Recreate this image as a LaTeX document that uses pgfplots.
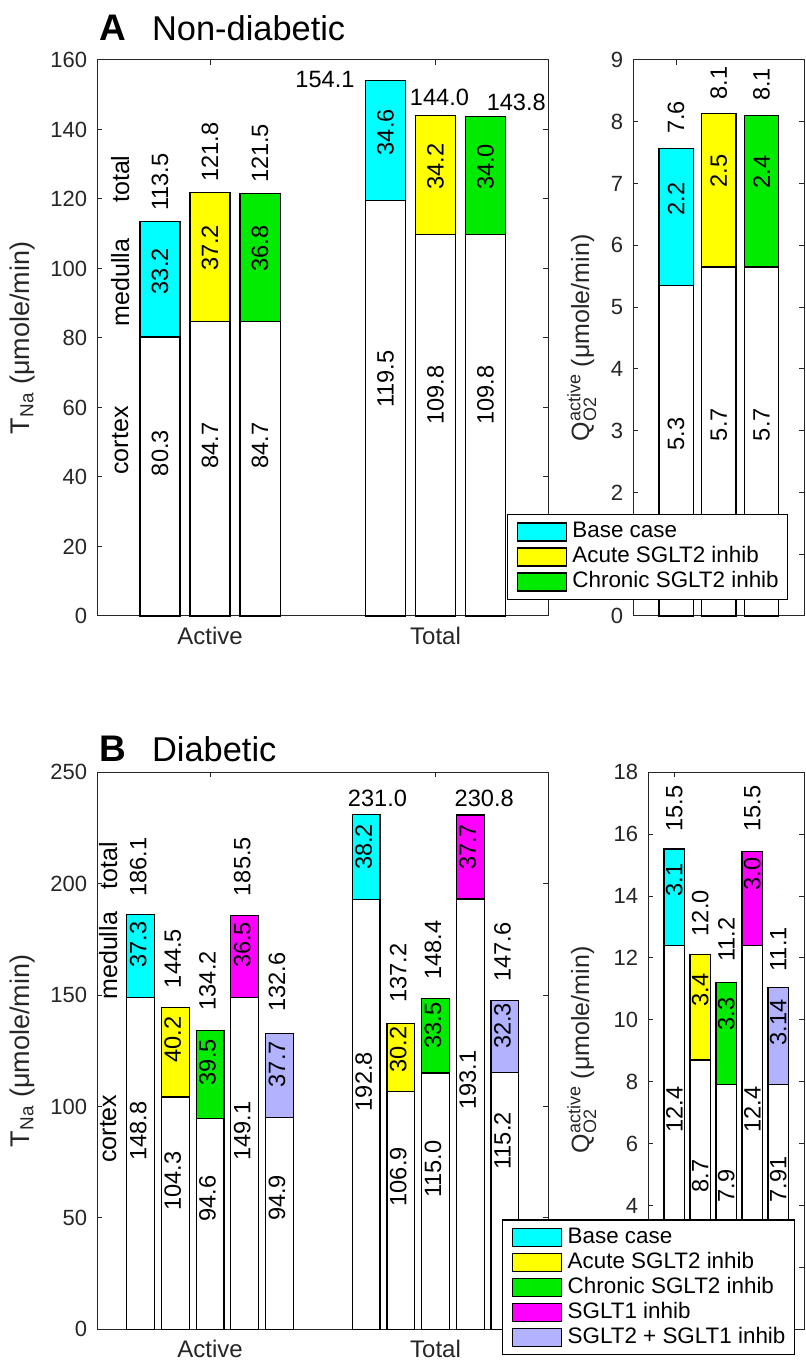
\documentclass[border=0pt]{standalone}
\usepackage{fontspec}
\setmainfont{Liberation Sans}
\usepackage{pgfplots}
\pgfplotsset{compat=1.18}
\definecolor{cy}{rgb}{0,1,1}
\definecolor{ye}{rgb}{1,1,0}
\definecolor{gr}{rgb}{0,0.92,0}
\definecolor{ma}{rgb}{1,0,1}
\definecolor{la}{rgb}{0.7,0.7,1}
\definecolor{ax}{rgb}{0.15,0.15,0.15}
\newcommand{\lab}{\fontsize{11.8}{13}\selectfont}
\newcommand{\RW}[4]{\node[xshift=#1,rotate=90,anchor=west,inner sep=0pt,font=\lab] at (axis cs:#2,#3) {#4};}
\newcommand{\RC}[4]{\node[xshift=#1,rotate=90,anchor=center,inner sep=0pt,font=\lab] at (axis cs:#2,#3) {#4};}
\newcommand{\HC}[3]{\node[anchor=center,inner sep=0pt,font=\lab] at (axis cs:#1,#2) {#3};}
\newcommand{\AN}[3]{\node[rotate=90,anchor=west,inner sep=0pt,font=\fontsize{12.5}{14}\selectfont] at (axis cs:#1,#2) {#3};}
\pgfplotsset{
  bars/.style={ybar, bar shift=0pt, draw=black, line width=0.6pt, forget plot},
  common/.style={scale only axis, anchor=south west, clip=false,
    axis line style={ax, line width=0.5pt},
    every tick/.style={ax, line width=0.5pt},
    major tick length=2.5pt, tick align=inside,
    /pgf/number format/assume math mode=true,
    yticklabel style={font=\fontsize{11}{13}\selectfont, text=ax, xshift=-1.6pt},
    xticklabel style={font=\fontsize{12}{14}\selectfont, text=ax, yshift=-2pt},
    legend image code/.code={\draw[##1,line width=0.6pt] (0pt,-4.5pt) rectangle (24.5pt,4.5pt);},
    legend style={draw=black, line width=0.6pt, fill=white,
      font=\fontsize{11.2}{12}\selectfont, inner xsep=4.5pt, inner ysep=3.2pt,
      row sep=1.5pt, column sep=2.85pt,
      nodes={inner sep=0pt, text height=8.5pt, text depth=2.5pt},
      cells={anchor=west}},
  }
}
\begin{document}
\begin{tikzpicture}
\useasboundingbox (0,0) rectangle (403pt,682.5pt);
% ---------------- A left
\begin{axis}[common, at={(48.65pt,374.5pt)}, width=225.5pt, height=278pt,
  xmin=0.5, xmax=2.5, ymin=0, ymax=160, ytick={0,20,...,160},
  xtick={1,2}, xticklabels={Active,Total}]
\addplot[bars, bar width=0.1775, fill=cy] coordinates {(0.778,113.5) (1.778,154.1)};
\addplot[bars, bar width=0.1775, fill=ye] coordinates {(1,121.9) (2,144.0)};
\addplot[bars, bar width=0.1775, fill=gr] coordinates {(1.222,121.5) (2.222,143.8)};
\addplot[bars, bar width=0.1775, fill=white] coordinates {(0.778,80.3) (1,84.7) (1.222,84.7) (1.778,119.5) (2,109.8) (2.222,109.8)};
\RW{0pt}{0.778}{116.5}{113.5}
\RW{0pt}{1}{124.8}{121.8}
\RW{0pt}{1.222}{124.5}{121.5}
\RC{0pt}{0.778}{99.2}{33.2}
\RC{0pt}{1}{105.9}{37.2}
\RC{0pt}{1.222}{105.7}{36.8}
\RW{0pt}{0.778}{40.15}{80.3}
\RW{0pt}{1}{42.35}{84.7}
\RW{0pt}{1.222}{42.35}{84.7}
\HC{1.5098}{154.5}{154.1}
\HC{2.0175}{149.3}{144.0}
\HC{2.358}{147.8}{143.8}
\RC{0pt}{1.778}{139.2}{34.6}
\RC{0pt}{2}{129.3}{34.2}
\RC{0pt}{2.222}{129.2}{34.0}
\RW{0pt}{1.778}{59.75}{119.5}
\RW{0pt}{2}{54.9}{109.8}
\RW{0pt}{2.222}{54.9}{109.8}
\AN{0.601}{118.8}{total}
\AN{0.601}{83.2}{medulla}
\AN{0.601}{40.6}{cortex}
\end{axis}
% ---------------- B left
\begin{axis}[common, at={(48.65pt,17.85pt)}, width=225.5pt, height=278.5pt,
  xmin=0.5, xmax=2.5, ymin=0, ymax=250, ytick={0,50,...,250},
  xtick={1,2}, xticklabels={Active,Total}]
\addplot[bars, bar width=0.123, fill=cy] coordinates {(0.6923,186.1) (1.6923,231.0)};
\addplot[bars, bar width=0.123, fill=ye] coordinates {(0.8462,144.5) (1.8462,137.1)};
\addplot[bars, bar width=0.123, fill=gr] coordinates {(1,134.1) (2,148.5)};
\addplot[bars, bar width=0.123, fill=ma] coordinates {(1.1538,185.6) (2.1538,230.8)};
\addplot[bars, bar width=0.123, fill=la] coordinates {(1.3077,132.6) (2.3077,147.6)};
\addplot[bars, bar width=0.123, fill=white] coordinates {(0.6923,148.8) (0.8462,104.3) (1,94.6) (1.1538,149.1) (1.3077,94.9) (1.6923,192.8) (1.8462,106.9) (2,115.0) (2.1538,193.1) (2.3077,115.2)};
\RW{-1.25pt}{0.6923}{194.1}{186.1}
\RW{-1.25pt}{0.8462}{153.0}{144.5}
\RW{-1.25pt}{1}{143.0}{134.2}
\RW{-1.25pt}{1.1538}{194.2}{185.5}
\RW{-1.25pt}{1.3077}{142.3}{132.6}
\RC{-1.25pt}{0.6923}{172.7}{37.3}
\RC{-1.25pt}{0.8462}{130.0}{40.2}
\RC{-1.25pt}{1}{119.9}{39.5}
\RC{-1.25pt}{1.1538}{172.5}{36.5}
\RC{-1.25pt}{1.3077}{119.0}{37.7}
\RW{-1.25pt}{0.6923}{75.4}{148.8}
\RW{-1.25pt}{0.8462}{53.2}{104.3}
\RW{-1.25pt}{1}{48.3}{94.6}
\RW{-1.25pt}{1.1538}{75.5}{149.1}
\RW{-1.25pt}{1.3077}{48.5}{94.9}
\HC{1.7426}{238.2}{231.0}
\RW{-1.25pt}{1.8462}{146.5}{137.2}
\RW{-1.25pt}{2}{156.8}{148.4}
\HC{2.2157}{238.2}{230.8}
\RW{-1.25pt}{2.3077}{155.9}{147.6}
\RC{-1.25pt}{1.6923}{216.5}{38.2}
\RC{-1.25pt}{1.8462}{125.6}{30.2}
\RC{-1.25pt}{2}{136.4}{33.5}
\RC{-1.25pt}{2.1538}{216.5}{37.7}
\RC{-1.25pt}{2.3077}{136.2}{32.3}
\RW{-1.25pt}{1.6923}{97.7}{192.8}
\RW{-1.25pt}{1.8462}{55.0}{106.9}
\RW{-1.25pt}{2}{58.8}{115.0}
\RW{-1.25pt}{2.1538}{98.4}{193.1}
\RW{-1.25pt}{2.3077}{71.5}{115.2}
\AN{0.548}{197.2}{total}
\AN{0.548}{147.8}{medulla}
\AN{0.548}{74.6}{cortex}
\end{axis}
% titles and y labels
\node[anchor=base west, inner sep=0pt, font=\fontsize{18.5}{20}\selectfont\bfseries] at (49.65pt,662pt) {A};
\node[anchor=base west, inner sep=0pt, font=\fontsize{17.2}{20}\selectfont] at (75.85pt,662pt) {Non-diabetic};
\node[anchor=base west, inner sep=0pt, font=\fontsize{18.5}{20}\selectfont\bfseries] at (49.65pt,301.65pt) {B};
\node[anchor=base west, inner sep=0pt, font=\fontsize{17.2}{20}\selectfont] at (75.85pt,301.65pt) {Diabetic};
\node[rotate=90, anchor=base, inner sep=0pt, font=\fontsize{13.5}{15}\selectfont, text=ax] at (14.5pt,513.5pt) {T\textsubscript{Na}\ (μmole/min)};
\node[rotate=90, anchor=base, inner sep=0pt, font=\fontsize{13.5}{15}\selectfont, text=ax] at (14.5pt,157pt) {T\textsubscript{Na}\ (μmole/min)};
\node[rotate=90, anchor=base, inner sep=0pt, font=\fontsize{12.5}{15}\selectfont, text=ax] at (294.5pt,513.5pt) {Q$^{\mbox{\fontsize{9}{9}\selectfont active}}_{\mbox{\fontsize{9}{9}\selectfont O2}}$\ (μmole/min)};
\node[rotate=90, anchor=base, inner sep=0pt, font=\fontsize{12.5}{15}\selectfont, text=ax] at (294.5pt,157.5pt) {Q$^{\mbox{\fontsize{9}{9}\selectfont active}}_{\mbox{\fontsize{9}{9}\selectfont O2}}$\ (μmole/min)};
% ---------------- A right
\begin{axis}[common, at={(316.65pt,374.5pt)}, width=85.5pt, height=278pt,
  xmin=0, xmax=4, ymin=0, ymax=9, ytick={0,1,...,9},
  xtick={1}, xticklabels={},
  legend style={at={(0.9064,0.0288)}, anchor=south east}]
\addplot[bars, bar width=0.8, fill=cy] coordinates {(1,7.57)};
\addplot[bars, bar width=0.8, fill=ye] coordinates {(2,8.13)};
\addplot[bars, bar width=0.8, fill=gr] coordinates {(3,8.10)};
\addplot[bars, bar width=0.8, fill=white] coordinates {(1,5.35) (2,5.65) (3,5.65)};
\RW{0pt}{1}{7.80}{7.6}
\RW{0pt}{2}{8.36}{8.1}
\RW{0pt}{3}{8.33}{8.1}
\RC{0pt}{1}{6.75}{2.2}
\RC{0pt}{2}{7.2}{2.5}
\RC{0pt}{3}{7.19}{2.4}
\RW{0pt}{1}{2.675}{5.3}
\RW{0pt}{2}{2.825}{5.7}
\RW{0pt}{3}{2.825}{5.7}
\addlegendimage{fill=cy, draw=black}
\addlegendentry{Base case}
\addlegendimage{fill=ye, draw=black}
\addlegendentry{Acute SGLT2 inhib}
\addlegendimage{fill=gr, draw=black}
\addlegendentry{Chronic SGLT2 inhib}
\end{axis}
% ---------------- B right
\begin{axis}[common, at={(324.15pt,17.85pt)}, width=78pt, height=278.5pt,
  xmin=0, xmax=6, ymin=0, ymax=18, ytick={0,2,...,18},
  xtick={1}, xticklabels={},
  legend style={at={(0.9404,-0.0467)}, anchor=south east}]
\addplot[bars, bar width=0.8, fill=cy] coordinates {(1,15.52)};
\addplot[bars, bar width=0.8, fill=ye] coordinates {(2,12.1)};
\addplot[bars, bar width=0.8, fill=gr] coordinates {(3,11.2)};
\addplot[bars, bar width=0.8, fill=ma] coordinates {(4,15.45)};
\addplot[bars, bar width=0.8, fill=la] coordinates {(5,11.05)};
\addplot[bars, bar width=0.8, fill=white] coordinates {(1,12.4) (2,8.7) (3,7.9) (4,12.4) (5,7.91)};
\RW{0pt}{1}{16.07}{15.5}
\RW{0pt}{2}{12.69}{12.0}
\RW{0pt}{3}{11.87}{11.2}
\RW{0pt}{4}{16.08}{15.5}
\RW{0pt}{5}{11.55}{11.1}
\RC{0pt}{1}{14.52}{3.1}
\RC{0pt}{2}{10.97}{3.4}
\RC{0pt}{3}{10.19}{3.3}
\RC{0pt}{4}{14.72}{3.0}
\RC{0pt}{5}{9.92}{3.14}
\RW{0pt}{1}{6.35}{12.4}
\RW{0pt}{2}{4.41}{8.7}
\RW{0pt}{3}{4.08}{7.9}
\RW{0pt}{4}{6.34}{12.4}
\RW{0pt}{5}{4.09}{7.91}
\addlegendimage{fill=cy, draw=black}
\addlegendentry{Base case}
\addlegendimage{fill=ye, draw=black}
\addlegendentry{Acute SGLT2 inhib}
\addlegendimage{fill=gr, draw=black}
\addlegendentry{Chronic SGLT2 inhib}
\addlegendimage{fill=ma, draw=black}
\addlegendentry{SGLT1 inhib}
\addlegendimage{fill=la, draw=black}
\addlegendentry{SGLT2 + SGLT1 inhib}
\end{axis}
\end{tikzpicture}
\end{document}
